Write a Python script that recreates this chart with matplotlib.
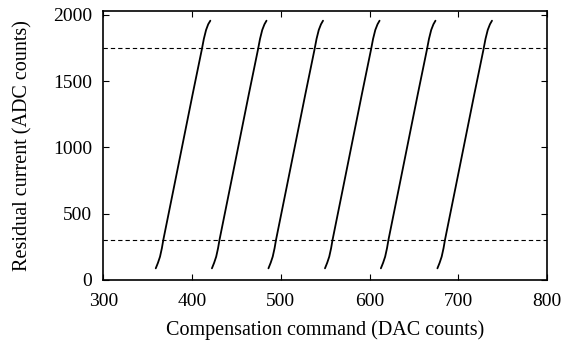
import matplotlib
matplotlib.use("Agg")
import matplotlib.pyplot as plt

# Residual current levels (ADC counts) at which the curves were sampled
y_levels = [88, 130, 176, 240, 302, 700, 1030, 1400, 1736, 1820, 1887, 1930, 1957]

# Compensation command (DAC counts) for each sweep
sweep1 = [359.1, 361.6, 363.9, 366.0, 367.6, 379.6, 389.5, 400.6, 410.9, 413.3, 415.8, 418.2, 420.6]
sweep2 = [422.4, 424.9, 427.2, 429.3, 430.9, 442.9, 452.8, 463.9, 474.2, 476.6, 479.1, 481.6, 483.9]
sweep3 = [486.1, 488.6, 490.9, 493.0, 494.6, 506.6, 516.5, 527.6, 537.9, 540.3, 542.8, 545.3, 547.6]
sweep4 = [549.8, 552.3, 554.6, 556.7, 558.3, 570.3, 580.2, 591.3, 601.6, 604.0, 606.5, 609.0, 611.3]
sweep5 = [612.8, 615.3, 617.6, 619.7, 621.3, 633.3, 643.2, 654.3, 664.6, 667.0, 669.5, 672.0, 674.3]
sweep6 = [676.5, 679.0, 681.3, 683.4, 685.0, 697.0, 706.9, 718.0, 728.3, 730.7, 733.2, 735.7, 738.0]
sweeps = [sweep1, sweep2, sweep3, sweep4, sweep5, sweep6]

# Threshold levels (ADC counts)
thresholds = [300, 1750]

x_ticks = [300, 400, 500, 600, 700, 800]
y_ticks = [0, 500, 1000, 1500, 2000]

plt.rcParams['font.family'] = ['Liberation Serif', 'DejaVu Serif']
plt.rcParams['font.size'] = 14

fig = plt.figure(figsize=(5.63, 3.41), dpi=100)
ax = fig.add_axes([0.1835, 0.1789, 0.7881, 0.7888])

for s in sweeps:
    ax.plot(s, y_levels, color='black', lw=1.3, solid_capstyle='round')

for t in thresholds:
    ax.axhline(t, color='black', lw=0.8, linestyle=(0, (3.9, 2.7)))

ax.set_xlim(300, 800)
ax.set_ylim(0, 2030)
ax.set_xticks(x_ticks)
ax.set_yticks(y_ticks)
ax.tick_params(direction='in', length=4, width=0.8, top=True, right=True, labelsize=14)
ax.tick_params(axis='x', pad=9.5)
ax.tick_params(axis='y', pad=8)
for sp in ax.spines.values():
    sp.set_linewidth(1.2)

ax.set_xlabel('Compensation command (DAC counts)', fontsize=14.5, labelpad=7.5)
ax.set_ylabel('Residual current (ADC counts)', fontsize=14.5, labelpad=15)

fig.savefig('out.png', dpi=100)
